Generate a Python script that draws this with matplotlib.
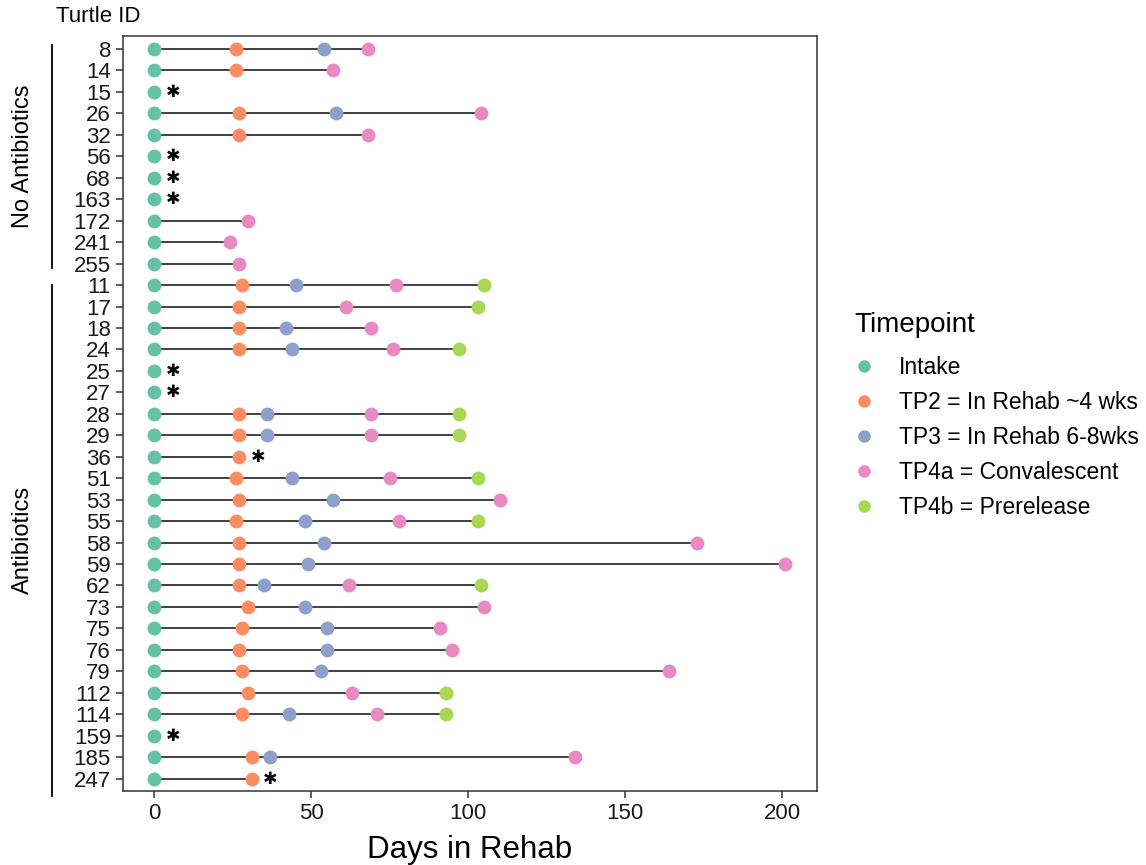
import numpy as np
import matplotlib
matplotlib.use("Agg")
import matplotlib.pyplot as plt
from matplotlib.lines import Line2D
from matplotlib.transforms import blended_transform_factory

plt.rcParams['font.family'] = ['Liberation Sans', 'DejaVu Sans']

nan = np.nan

# turtles, top to bottom
turtle_ids = ['8', '14', '15', '26', '32', '56', '68', '163', '172', '241', '255',
              '11', '17', '18', '24', '25', '27', '28', '29', '36', '51', '53', '55',
              '58', '59', '62', '73', '75', '76', '79', '112', '114', '159', '185', '247']

# days in rehab at each sampling timepoint
intake = [0] * len(turtle_ids)
tp2 = [26, 26, nan, 27, 27, nan, nan, nan, nan, nan, nan,
       28, 27, 27, 27, nan, nan, 27, 27, 27, 26, 27, 26,
       27, 27, 27, 30, 28, 27, 28, 30, 28, nan, 31, 31]
tp3 = [54, nan, nan, 58, nan, nan, nan, nan, nan, nan, nan,
       45, nan, 42, 44, nan, nan, 36, 36, nan, 44, 57, 48,
       54, 49, 35, 48, 55, 55, 53, nan, 43, nan, 37, nan]
tp4a = [68, 57, nan, 104, 68, nan, nan, nan, 30, 24, 27,
        77, 61, 69, 76, nan, nan, 69, 69, nan, 75, 110, 78,
        173, 201, 62, 105, 91, 95, 164, 63, 71, nan, 134, nan]
tp4b = [nan, nan, nan, nan, nan, nan, nan, nan, nan, nan, nan,
        105, 103, nan, 97, nan, nan, 97, 97, nan, 103, nan, 103,
        nan, nan, 104, nan, nan, nan, nan, 93, 93, nan, nan, nan]

timepoint_labels = ['Intake', 'TP2 = In Rehab ~4 wks', 'TP3 = In Rehab 6-8wks',
                    'TP4a = Convalescent', 'TP4b = Prerelease']
colors = ['#66C2A5', '#FC8D62', '#8DA0CB', '#E78AC3', '#A6D854']

# turtles marked with an asterisk
flagged = ['15', '56', '68', '163', '25', '27', '36', '159', '247']

# treatment groups: (label, first row, last row)
groups = [('No Antibiotics', 0, 10), ('Antibiotics', 11, 34)]

series = [intake, tp2, tp3, tp4a, tp4b]
days = np.array(series, dtype=float)
rows = np.arange(len(turtle_ids))

fig = plt.figure(figsize=(11.46, 8.65), dpi=100)
ax = fig.add_axes([0.1071, 0.0850, 0.6056, 0.8732])

# segment from intake to last sample
for i in rows:
    last = np.nanmax(days[:, i])
    if last > 0:
        ax.plot([0, last], [i, i], color='#333333', lw=1.3, zorder=1)

for vals, col in zip(series, colors):
    ax.scatter(vals, rows, s=100, color=col, linewidths=0, zorder=3)

for i, tid in enumerate(turtle_ids):
    if tid in flagged:
        last = np.nanmax(days[:, i])
        ax.text(last + 6, i, '\u2731', fontsize=12.5, ha='center', va='center',
                family='DejaVu Sans', color='black')

ax.set_xlim(-10.05, 211.05)
ax.set_ylim(len(turtle_ids) - 1 + 0.6, -0.6)
ax.set_yticks(rows, turtle_ids)
ax.set_xticks([0, 50, 100, 150, 200])

for sp in ax.spines.values():
    sp.set_color('#333333')
    sp.set_linewidth(1.1)
ax.tick_params(axis='both', colors='#333333', length=5, width=1.1)
ax.tick_params(axis='y', labelsize=16, labelcolor='#1a1a1a', pad=3.5)
ax.tick_params(axis='x', labelsize=16, labelcolor='#1a1a1a', pad=3.5)
ax.set_xlabel('Days in Rehab', fontsize=22.5, labelpad=8)

fig.text(56 / 1146, 1 - 17 / 865, 'Turtle ID', ha='left', va='center', fontsize=16)

# group brackets left of the tick labels
trans = blended_transform_factory(ax.transAxes, ax.transData)
for name, start, end in groups:
    y0 = start - 0.2 if start == 0 else start
    y1 = end + 0.2 if end == 10 else end + 0.8
    ax.plot([-0.1019, -0.1019], [y0, y1], transform=trans, clip_on=False,
            color='black', lw=1.3)
    ax.text(-0.1437, (y0 + y1) / 2, name, transform=trans, rotation=90,
            ha='center', va='center', fontsize=17)

handles = [Line2D([], [], marker='o', ls='', color=c, markersize=9, markeredgewidth=0)
           for c in colors]
leg = fig.legend(handles, timepoint_labels, title='Timepoint', loc='upper left',
                 bbox_to_anchor=(834 / 1146, 1 - 291 / 865), frameon=False,
                 fontsize=16.5, title_fontsize=20, alignment='left',
                 handletextpad=1.13, labelspacing=0.52, handlelength=0.8)
# a little more room between the legend title and its entries
leg._legend_box.sep += 5

fig.savefig('out.png', dpi=100)
